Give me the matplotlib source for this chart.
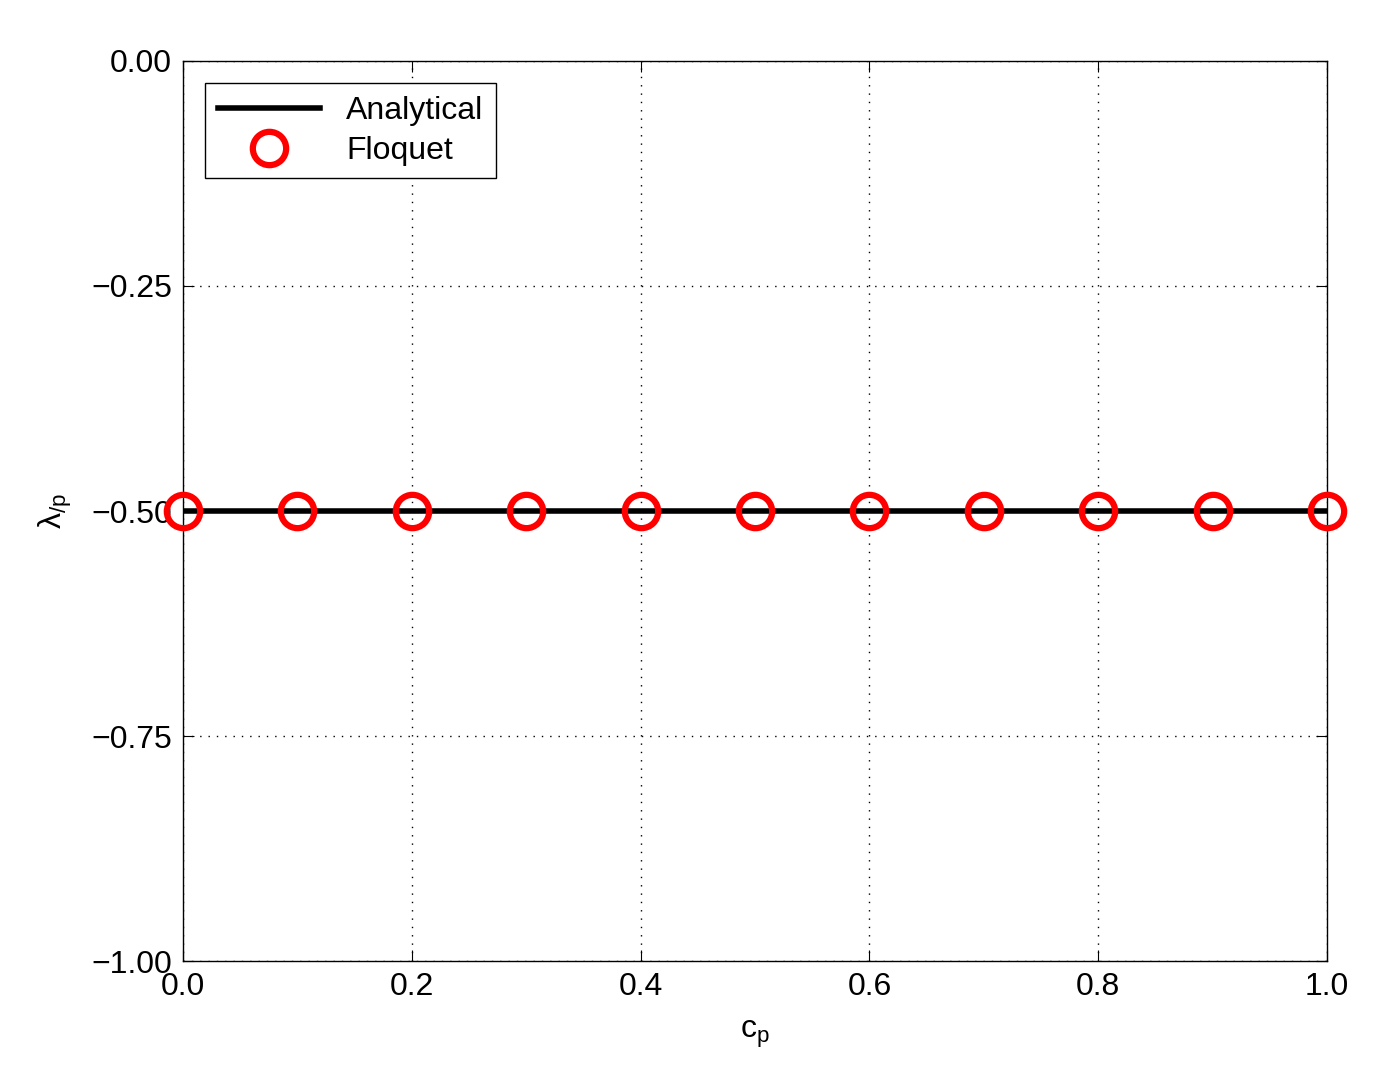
import matplotlib
matplotlib.use("Agg")
import matplotlib.pyplot as plt

plt.rcParams["font.family"] = ["Liberation Sans", "DejaVu Sans"]
plt.rcParams["mathtext.fontset"] = "custom"
plt.rcParams["mathtext.rm"] = "Liberation Sans"
plt.rcParams["mathtext.it"] = "Liberation Sans"

# data
analytical_x = [0.0, 1.0]
analytical_y = [-0.5, -0.5]
floquet_x = [0.0, 0.1, 0.2, 0.3, 0.4, 0.5, 0.6, 0.7, 0.8, 0.9, 1.0]
floquet_y = [-0.5] * 11
xticks = [0.0, 0.2, 0.4, 0.6, 0.8, 1.0]
yticks = [-1.0, -0.75, -0.5, -0.25, 0.0]

fig = plt.figure(figsize=(13.77, 10.89), dpi=100)
ax = fig.add_axes([0.1329, 0.1175, 0.8308, 0.8265])

ax.plot(analytical_x, analytical_y, color="black", lw=4, label="Analytical")
ax.plot(floquet_x, floquet_y, ls="none", marker="o", ms=24, mfc="none",
        mec="red", mew=4.5, label="Floquet", clip_on=False, zorder=5)

ax.set_xlim(0, 1)
ax.set_ylim(-1, 0)
ax.set_xticks(xticks)
ax.set_xticklabels([f"{t:.1f}" for t in xticks])
ax.set_yticks(yticks)
ax.set_yticklabels(["\u22121.00", "\u22120.75", "\u22120.50", "\u22120.25", "0.00"])
ax.tick_params(direction="in", labelsize=23, length=8, top=True, right=True, pad=8)
ax.grid(True, color="black", ls=(0, (1, 5)), lw=1)
for s in ax.spines.values():
    s.set_linewidth(1)

ax.set_xlabel(r"c$_\mathregular{p}$", fontsize=23, labelpad=12)
ax.set_ylabel(r"$\lambda_{/p}$", fontsize=23, labelpad=12)

leg = ax.legend(loc="upper left", fontsize=23, fancybox=False, edgecolor="black",
                handlelength=3.2, borderaxespad=0.7, framealpha=1, labelspacing=0.3)
leg.get_frame().set_linewidth(1)

fig.savefig("out.png", dpi=100, facecolor="white")
